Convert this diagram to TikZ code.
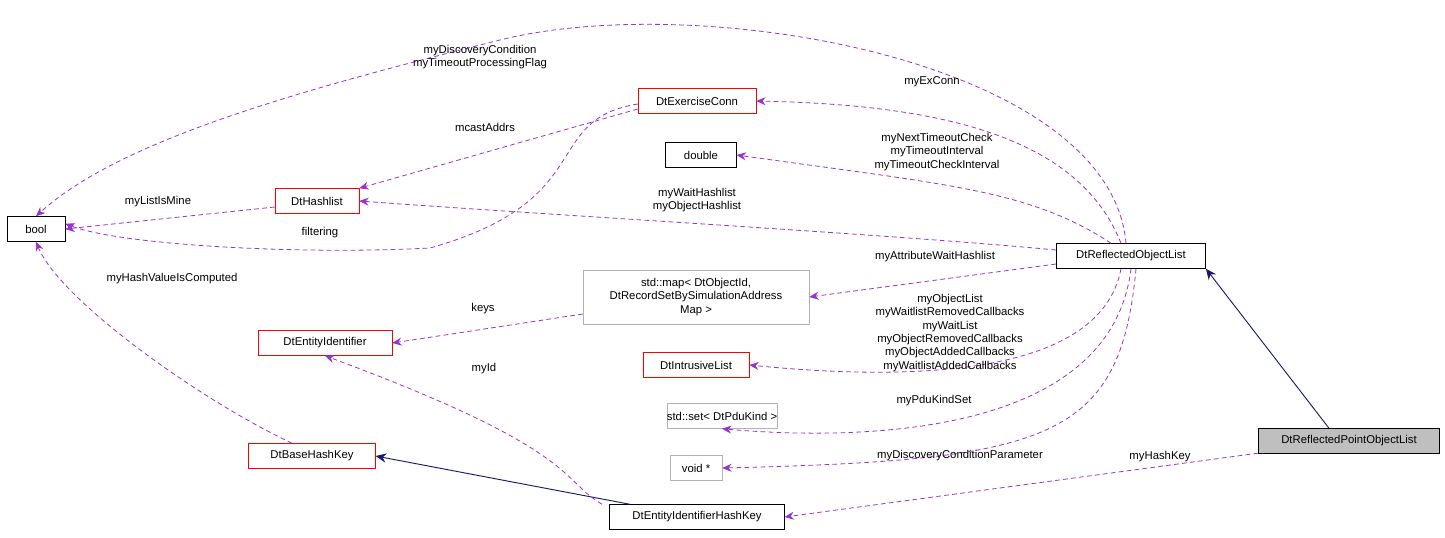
\documentclass[tikz,border=0pt]{standalone}
\usepackage{fontspec}
\setmainfont{Liberation Sans}
\usetikzlibrary{arrows.meta}
\begin{document}
\begin{tikzpicture}[x=0.75pt,y=-0.75pt,font=\fontsize{8.5}{10}\selectfont,
 cls/.style={draw=black,fill=white,inner sep=0pt,minimum height=18.75pt,align=center},
 red/.style={cls,draw=red},
 grey/.style={cls,draw=black!30},
 use/.style={draw={rgb,255:red,153;green,50;blue,204},line width=0.6pt,dash pattern=on 3.5pt off 2.5pt,-{Stealth[length=7pt,width=6pt]}},
 inh/.style={draw={rgb,255:red,25;green,25;blue,112},line width=0.7pt,-{Stealth[length=8pt,width=7pt]}},
 lab/.style={align=center,inner sep=1pt}]
\useasboundingbox (0,0) rectangle (1445,537);
\node[cls,minimum width=43.5pt] (bool) at (36,229) {bool};
\node[red,minimum width=63pt] (hl) at (317,201) {DtHashlist};
\node[red,minimum width=88.5pt] (ec) at (697,101) {DtExerciseConn};
\node[cls,minimum width=53pt] (dbl) at (701,155) {double};
\node[grey,minimum width=169.5pt,minimum height=40.5pt] (map) at (696,297) {std::map< DtObjectId,\\DtRecordSetBySimulationAddress\\Map >};
\node[red,minimum width=100.5pt] (ei) at (325,343) {DtEntityIdentifier};
\node[red,minimum width=79.5pt] (il) at (696,365) {DtIntrusiveList};
\node[grey,minimum width=78pt] (set) at (722,416) {std::set< DtPduKind >};
\node[grey,minimum width=39pt] (vp) at (696,468) {void *};
\node[red,minimum width=95pt] (bhk) at (312,456) {DtBaseHashKey};
\node[cls,minimum width=131pt] (eihk) at (697,517) {DtEntityIdentifierHashKey};
\node[cls,minimum width=112pt] (rol) at (1131,256) {DtReflectedObjectList};
\node[cls,fill=black!25,minimum width=136pt] (rpol) at (1349,441) {DtReflectedPointObjectList};

\draw[inh] (rpol.north) ++(-20,0) -- (rol.south east);
\draw[inh] (eihk) -- (bhk.east);
\draw[use] (rpol) -- (eihk.east);
\node[lab] at (1160,457) {myHashKey};
\draw[use] (rol.north) ++(-5,0) .. controls (1110,60) and (700,-10) .. (500,40) .. controls (300,90) and (120,140) .. (bool.north);
\node[lab] at (480,57) {myDiscoveryCondition\\myTimeoutProcessingFlag};
\draw[use] (rol.north) ++(-10,0) .. controls (1080,140) and (950,105) .. (ec.east);
\node[lab] at (932,82) {myExConn};
\draw[use] (rol.north) ++(-20,0) .. controls (1030,190) and (950,185) .. (dbl.east);
\node[lab] at (937,152) {myNextTimeoutCheck\\myTimeoutInterval\\myTimeoutCheckInterval};
\draw[use] (rol.west) ++(0,-6) .. controls (900,235) and (550,215) .. (hl.east);
\node[lab] at (697,200) {myWaitHashlist\\myObjectHashlist};
\draw[use] (rol.west) ++(0,8) -- (map.east);
\node[lab] at (935,257) {myAttributeWaitHashlist};
\draw[use] (rol.south) ++(-10,0) .. controls (1100,380) and (900,380) .. (il.east);
\node[lab] at (950,333) {myObjectList\\myWaitlistRemovedCallbacks\\myWaitList\\myObjectRemovedCallbacks\\myObjectAddedCallbacks\\myWaitlistAddedCallbacks};
\draw[use] (rol.south) .. controls (1110,440) and (850,440) .. (set.south);
\node[lab] at (934,401) {myPduKindSet};
\draw[use] (rol.south) ++(5,0) .. controls (1120,440) and (1050,460) .. (vp.east);
\node[lab] at (960,456) {myDiscoveryConditionParameter};
\draw[use] (eihk.north) ++(-95,0) .. controls (560,480) and (580,450) .. (ei.south);
\node[lab] at (484,369) {myId};
\draw[use] (map.west) ++(0,17) -- (ei.east);
\node[lab] at (483,309) {keys};
\draw[use] (bhk.north) ++(-20,0) .. controls (200,400) and (60,300) .. (bool.south);
\node[lab] at (172,279) {myHashValueIsComputed};
\draw[use] (hl.west) ++(0,6) -- (bool.east);
\node[lab] at (158,202) {myListIsMine};
\draw[use] (ec.west) ++(0,3) .. controls (540,120) and (600,200) .. (430,248) .. controls (300,255) and (120,245) .. ([yshift=4pt]bool.east);
\node[lab] at (320,233) {filtering};
\draw[use] (ec.west) ++(0,8) -- (hl.north east);
\node[lab] at (485,127) {mcastAddrs};
\end{tikzpicture}
\end{document}
